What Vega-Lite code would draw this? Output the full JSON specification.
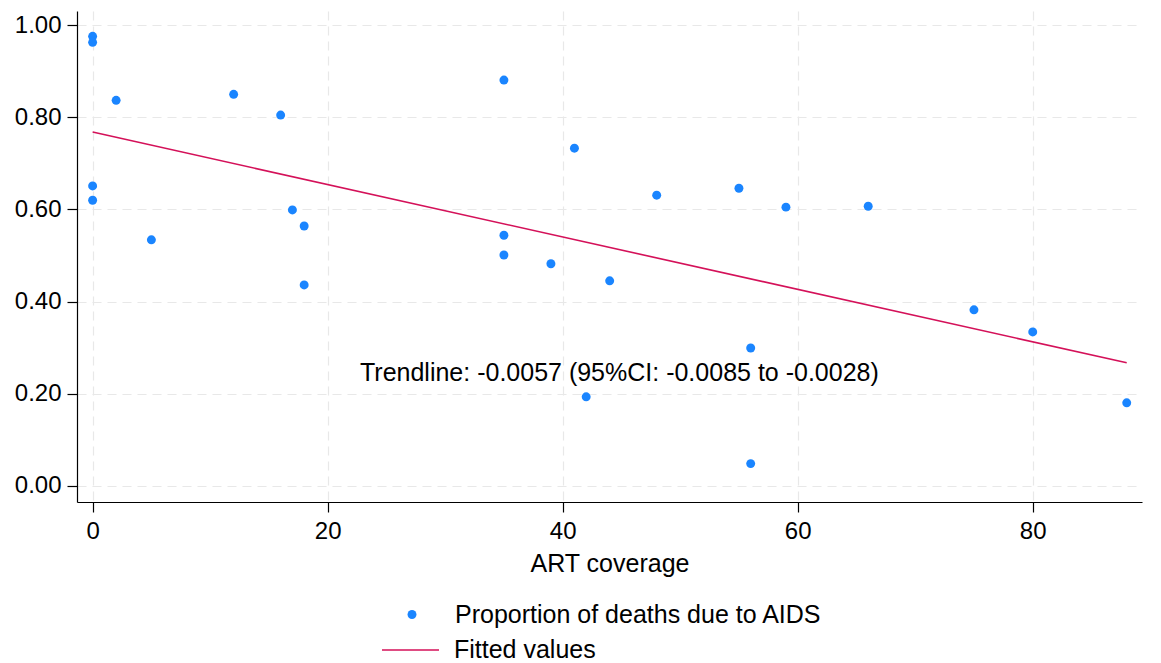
{
  "$schema": "https://vega.github.io/schema/vega-lite/v6.json",
  "width": 1065,
  "height": 491,
  "autosize": {"type": "none"},
  "padding": {"left": 77, "top": 11, "right": 19, "bottom": 161},
  "background": "white",
  "config": {
    "font": "Liberation Sans",
    "view": {"stroke": null},
    "axis": {
      "labelFont": "Liberation Sans",
      "titleFont": "Liberation Sans",
      "labelFontSize": 24,
      "titleFontSize": 25,
      "labelColor": "#000000",
      "titleColor": "#000000",
      "titleFontWeight": "normal",
      "domainColor": "#000000",
      "domainWidth": 1.2,
      "tickColor": "#000000",
      "tickWidth": 1.2,
      "tickSize": 10,
      "gridColor": "#e8e8e8",
      "gridDash": [9, 6],
      "gridWidth": 1.2
    },
    "legend": {
      "labelFont": "Liberation Sans",
      "labelFontSize": 25,
      "labelColor": "#000000",
      "labelLimit": 0,
      "padding": 0
    }
  },
  "datasets": {
    "pts": [
      {"art": 0, "prop": 0.976},
      {"art": 0, "prop": 0.963},
      {"art": 2, "prop": 0.837},
      {"art": 12, "prop": 0.850},
      {"art": 16, "prop": 0.805},
      {"art": 0, "prop": 0.651},
      {"art": 0, "prop": 0.620},
      {"art": 5, "prop": 0.534},
      {"art": 17, "prop": 0.599},
      {"art": 18, "prop": 0.564},
      {"art": 18, "prop": 0.436},
      {"art": 35, "prop": 0.881},
      {"art": 41, "prop": 0.733},
      {"art": 35, "prop": 0.544},
      {"art": 35, "prop": 0.501},
      {"art": 39, "prop": 0.482},
      {"art": 44, "prop": 0.445},
      {"art": 48, "prop": 0.631},
      {"art": 55, "prop": 0.646},
      {"art": 59, "prop": 0.605},
      {"art": 66, "prop": 0.607},
      {"art": 56, "prop": 0.299},
      {"art": 42, "prop": 0.193},
      {"art": 56, "prop": 0.048},
      {"art": 75, "prop": 0.382},
      {"art": 80, "prop": 0.334},
      {"art": 88, "prop": 0.180}
    ],
    "fit": [
      {"art": 0, "prop": 0.768},
      {"art": 88, "prop": 0.267}
    ],
    "note": [
      {"art": 22.75, "prop": 0.245, "label": "Trendline: -0.0057 (95%CI: -0.0085 to -0.0028)"}
    ]
  },
  "layer": [
    {
      "data": {"name": "pts"},
      "transform": [{"calculate": "'Proportion of deaths due to AIDS'", "as": "series"}],
      "mark": {"type": "point", "filled": true, "size": 80, "opacity": 1},
      "encoding": {
        "x": {
          "field": "art", "type": "quantitative",
          "scale": {"domain": [-1.33, 89.3], "nice": false, "zero": false},
          "axis": {"values": [0, 20, 40, 60, 80], "title": "ART coverage", "labelPadding": 7, "titlePadding": 8, "grid": true}
        },
        "y": {
          "field": "prop", "type": "quantitative",
          "scale": {"domain": [-0.0354, 1.031], "nice": false, "zero": false},
          "axis": {"values": [0, 0.2, 0.4, 0.6, 0.8, 1.0], "format": ".2f", "title": null, "labelPadding": 6, "grid": true}
        },
        "fill": {
          "field": "series", "type": "nominal",
          "scale": {"range": ["#1a85ff"]},
          "legend": {
            "title": null,
            "orient": "none",
            "legendX": 322.5,
            "legendY": 591,
            "symbolType": "circle",
            "symbolSize": 80,
            "labelOffset": 30.5
          }
        }
      }
    },
    {
      "data": {"name": "fit"},
      "transform": [{"calculate": "'Fitted values'", "as": "series"}],
      "mark": {"type": "line", "strokeWidth": 1.6},
      "encoding": {
        "x": {"field": "art", "type": "quantitative"},
        "y": {"field": "prop", "type": "quantitative"},
        "stroke": {
          "field": "series", "type": "nominal",
          "scale": {"range": ["#d41159"]},
          "legend": {
            "title": null,
            "orient": "none",
            "legendX": 304,
            "legendY": 609.5,
            "symbolType": "stroke",
            "symbolSize": 3249,
            "symbolStrokeWidth": 1.6,
            "labelOffset": 14
          }
        }
      }
    },
    {
      "data": {"name": "note"},
      "mark": {"type": "text", "align": "left", "baseline": "middle", "fontSize": 25, "font": "Liberation Sans", "color": "#000000"},
      "encoding": {
        "x": {"field": "art", "type": "quantitative"},
        "y": {"field": "prop", "type": "quantitative"},
        "text": {"field": "label"}
      }
    }
  ]
}
